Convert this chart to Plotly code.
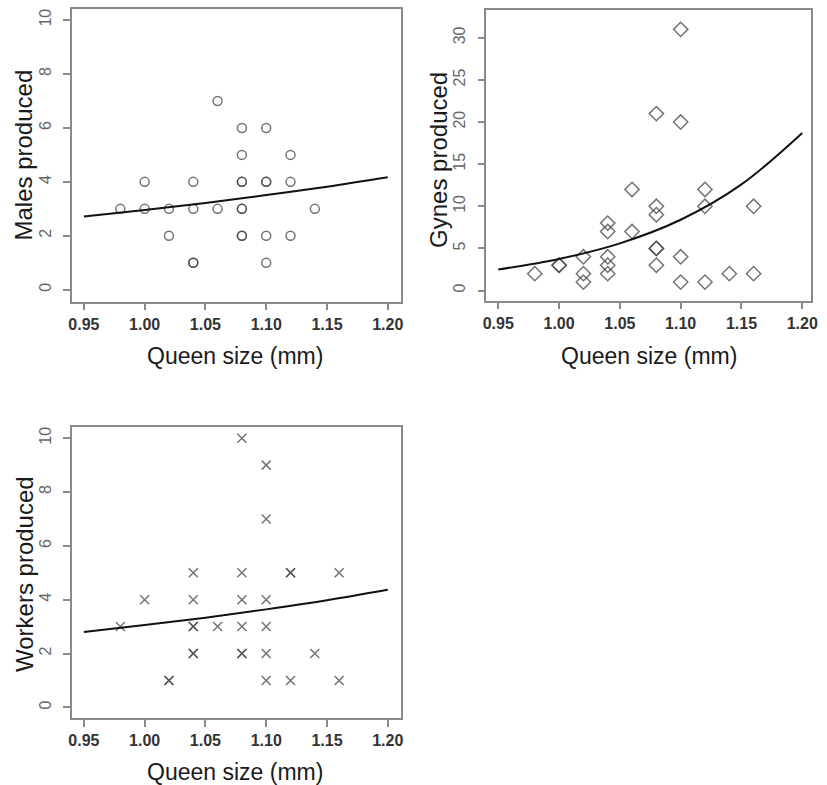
import plotly.graph_objects as go

# ---- data ----
males_x = [0.98, 1.00, 1.00, 1.02, 1.02, 1.04, 1.04, 1.04, 1.04, 1.06, 1.06,
           1.08, 1.08, 1.08, 1.08, 1.08, 1.08, 1.08, 1.08,
           1.10, 1.10, 1.10, 1.10, 1.10, 1.12, 1.12, 1.12, 1.14]
males_y = [3, 4, 3, 3, 2, 4, 3, 1, 1, 7, 3,
           6, 5, 4, 4, 3, 3, 2, 2,
           6, 4, 4, 2, 1, 5, 4, 2, 3]

gynes_x = [0.98, 1.00, 1.00, 1.02, 1.02, 1.02, 1.04, 1.04, 1.04, 1.04, 1.04,
           1.06, 1.06, 1.08, 1.08, 1.08, 1.08, 1.08, 1.08,
           1.10, 1.10, 1.10, 1.10, 1.12, 1.12, 1.12, 1.14, 1.16, 1.16]
gynes_y = [2, 3, 3, 4, 2, 1, 8, 7, 4, 3, 2,
           12, 7, 21, 10, 9, 5, 5, 3,
           31, 20, 4, 1, 12, 10, 1, 2, 10, 2]

workers_x = [0.98, 1.00, 1.02, 1.02, 1.04, 1.04, 1.04, 1.04, 1.04, 1.04, 1.06,
             1.08, 1.08, 1.08, 1.08, 1.08, 1.08,
             1.10, 1.10, 1.10, 1.10, 1.10, 1.10,
             1.12, 1.12, 1.12, 1.14, 1.16, 1.16]
workers_y = [3, 4, 1, 1, 5, 4, 3, 3, 2, 2, 3,
             10, 5, 4, 3, 2, 2,
             9, 7, 4, 3, 2, 1,
             5, 5, 1, 2, 5, 1]

# fitted curves
curve_x = [0.95, 1.00, 1.05, 1.10, 1.15, 1.20]
males_fit = [2.72, 2.96, 3.22, 3.51, 3.82, 4.17]
gynes_fit = [2.5, 3.75, 5.6, 8.4, 12.6, 18.7]
workers_fit = [2.8, 3.06, 3.33, 3.64, 3.98, 4.37]

x_ticks = [0.95, 1.00, 1.05, 1.10, 1.15, 1.20]
x_tick_text = ["0.95", "1.00", "1.05", "1.10", "1.15", "1.20"]
males_yticks = [0, 2, 4, 6, 8, 10]
gynes_yticks = [0, 5, 10, 15, 20, 25, 30]
workers_yticks = [0, 2, 4, 6, 8, 10]

W, H = 827, 785
FRAME = "#8a8a8a"
MK = "rgba(70,70,70,0.75)"

fig = go.Figure()

def add_panel(n, xs, ys, fit, symbol, size):
    xa = "x" if n == 1 else f"x{n}"
    ya = "y" if n == 1 else f"y{n}"
    fig.add_trace(go.Scatter(x=xs, y=ys, mode="markers", xaxis=xa, yaxis=ya,
                             marker=dict(symbol=symbol, size=size, color=MK,
                                         line=dict(color=MK, width=1.5)),
                             showlegend=False, hoverinfo="x+y"))
    fig.add_trace(go.Scatter(x=curve_x, y=fit, mode="lines", xaxis=xa, yaxis=ya,
                             line=dict(color="#111111", width=2, shape="spline"),
                             showlegend=False, hoverinfo="skip"))

add_panel(1, males_x, males_y, males_fit, "circle-open", 9)
add_panel(2, gynes_x, gynes_y, gynes_fit, "diamond-open", 11)
add_panel(3, workers_x, workers_y, workers_fit, "x-thin-open", 9)

def px_dom(a, b, total):
    return [a / total, b / total]

def ydom(top, bottom):
    return [1 - bottom / H, 1 - top / H]

xcommon = dict(tickvals=x_ticks, ticktext=x_tick_text, ticks="outside", ticklen=7,
               tickcolor=FRAME, tickwidth=1.5, showline=True, linecolor=FRAME,
               linewidth=1.5, mirror=True, showgrid=False, zeroline=False,
               tickfont=dict(family="Liberation Sans", size=16, color="#333333",
                             weight="bold"),
               ticklabelstandoff=0)
ycommon = dict(ticks="outside", ticklen=7, tickcolor=FRAME, tickwidth=1.5,
               showline=True, linecolor=FRAME, linewidth=1.5, mirror=True,
               showgrid=False, zeroline=False, tickangle=-90,
               tickfont=dict(family="Liberation Sans", size=16, color="#666666"),
               ticklabelstandoff=6)

fig.update_layout(
    width=W, height=H, margin=dict(l=0, r=0, t=0, b=0),
    plot_bgcolor="white", paper_bgcolor="white",
    xaxis=dict(domain=px_dom(69, 402, W), range=[0.9403, 1.2106], anchor="y", **xcommon),
    yaxis=dict(domain=ydom(8, 301), range=[-0.44, 10.41], tickvals=males_yticks,
               anchor="x", **ycommon),
    xaxis2=dict(domain=px_dom(489, 818, W), range=[0.9403, 1.2073], anchor="y2", **xcommon),
    yaxis2=dict(domain=ydom(9, 300), range=[-1.2, 33.3], tickvals=gynes_yticks,
                anchor="x2", **ycommon),
    xaxis3=dict(domain=px_dom(69, 402, W), range=[0.9403, 1.2106], anchor="y3", **xcommon),
    yaxis3=dict(domain=ydom(427, 718), range=[-0.4, 10.4], tickvals=workers_yticks,
                anchor="x3", **ycommon),
)

ytitle_font = dict(family="Liberation Sans", size=24, color="#1a1a1a")
xtitle_font = dict(family="Liberation Sans", size=23, color="#1a1a1a")
labels = [
    ("Males produced", 20, 154, -90, ytitle_font),
    ("Gynes produced", 441, 159, -90, ytitle_font),
    ("Workers produced", 21, 574, -90, ytitle_font),
    ("Queen size (mm)", 234, 355, 0, xtitle_font),
    ("Queen size (mm)", 654, 355, 0, xtitle_font),
    ("Queen size (mm)", 234, 772, 0, xtitle_font),
]
for text, x, y, ang, f in labels:
    fig.add_annotation(text=text, x=x / W, y=1 - y / H, xref="paper", yref="paper",
                       xanchor="center", yanchor="middle", showarrow=False,
                       textangle=ang, font=f)

fig.write_html("out.html", config={"displayModeBar": False},
               post_script="document.body.style.margin='0';document.body.style.overflow='hidden';")
